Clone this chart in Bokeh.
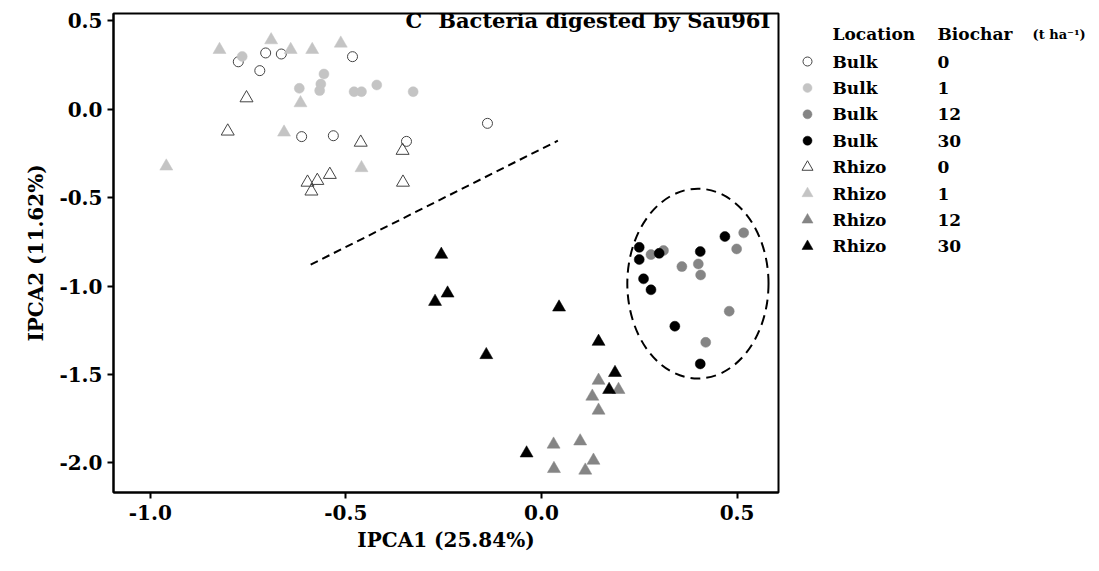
from bokeh.plotting import figure
from bokeh.models import Range1d, FixedTicker, NumeralTickFormatter, Label
from bokeh.layouts import row
from bokeh.embed import file_html
from bokeh.resources import INLINE
from bokeh.core.properties import value

# ---------------- data ----------------
bulk0_x = [-0.775, -0.705, -0.665, -0.720, -0.483, -0.613, -0.532, -0.345, -0.138]
bulk0_y = [0.268, 0.318, 0.312, 0.218, 0.297, -0.155, -0.150, -0.182, -0.080]

bulk1_x = [-0.765, -0.556, -0.564, -0.567, -0.619, -0.479, -0.460, -0.421, -0.328]
bulk1_y = [0.298, 0.199, 0.142, 0.105, 0.118, 0.099, 0.099, 0.137, 0.099]

bulk12_x = [0.280, 0.312, 0.359, 0.401, 0.407, 0.499, 0.517, 0.480, 0.420]
bulk12_y = [-0.822, -0.799, -0.890, -0.875, -0.937, -0.790, -0.699, -1.142, -1.318]

bulk30_x = [0.250, 0.250, 0.301, 0.406, 0.469, 0.261, 0.280, 0.341, 0.406]
bulk30_y = [-0.781, -0.850, -0.815, -0.805, -0.720, -0.959, -1.021, -1.227, -1.440]

rhizo0_x = [-0.754, -0.802, -0.462, -0.355, -0.354, -0.598, -0.573, -0.541, -0.588]
rhizo0_y = [0.063, -0.125, -0.188, -0.234, -0.414, -0.414, -0.404, -0.370, -0.464]

rhizo1_x = [-0.823, -0.691, -0.641, -0.586, -0.513, -0.616, -0.658, -0.460, -0.959]
rhizo1_y = [0.336, 0.391, 0.336, 0.336, 0.372, 0.035, -0.131, -0.332, -0.323]

rhizo12_x = [0.146, 0.197, 0.130, 0.146, 0.031, 0.099, 0.133, 0.032, 0.112]
rhizo12_y = [-1.534, -1.586, -1.624, -1.703, -1.895, -1.877, -1.986, -2.033, -2.042]

rhizo30_x = [-0.256, -0.240, -0.272, 0.045, -0.141, 0.146, 0.188, 0.173, -0.038]
rhizo30_y = [-0.822, -1.041, -1.088, -1.120, -1.389, -1.314, -1.490, -1.586, -1.945]

# separating dashed line and dashed ellipse
sep_x = [-0.590, 0.042]
sep_y = [-0.879, -0.178]
ell_cx, ell_cy, ell_w, ell_h = 0.400, -0.986, 0.361, 1.073

x_ticks = [-1.0, -0.5, 0.0, 0.5]
y_ticks = [0.5, 0.0, -0.5, -1.0, -1.5, -2.0]

panel_letter = "C"
title_text = "Bacteria digested by Sau96I"
x_label = "IPCA1 (25.84%)"
y_label = "IPCA2 (11.62%)"

legend_locations = ["Bulk", "Bulk", "Bulk", "Bulk", "Rhizo", "Rhizo", "Rhizo", "Rhizo"]
legend_biochar = ["0", "1", "12", "30", "0", "1", "12", "30"]
legend_header = ["Location", "Biochar", "(t ha\u207b\u00b9)"]

# ---------------- styles ----------------
LIGHT = "#c4c4c4"
MID = "#858585"
DARK = "#000000"
OPEN = "#444444"
FONT = "DejaVu Serif"

series = [
    (bulk0_x, bulk0_y, "circle", None, OPEN),
    (bulk1_x, bulk1_y, "circle", LIGHT, LIGHT),
    (bulk12_x, bulk12_y, "circle", MID, MID),
    (bulk30_x, bulk30_y, "circle", DARK, DARK),
    (rhizo0_x, rhizo0_y, "triangle", None, OPEN),
    (rhizo1_x, rhizo1_y, "triangle", LIGHT, LIGHT),
    (rhizo12_x, rhizo12_y, "triangle", MID, MID),
    (rhizo30_x, rhizo30_y, "triangle", DARK, DARK),
]

FRAME_TOP, FRAME_BOTTOM = 13, 492
H = 571

p = figure(width=780, height=H, output_backend="svg", toolbar_location=None,
           x_range=Range1d(-1.094, 0.606), y_range=Range1d(-2.167, 0.541),
           min_border_left=113, min_border_right=2,
           min_border_top=FRAME_TOP, min_border_bottom=H - FRAME_BOTTOM)
p.grid.visible = False
p.outline_line_color = "black"
p.outline_line_width = 2
p.background_fill_color = "white"
p.border_fill_color = "white"

for ax in (p.xaxis[0], p.yaxis[0]):
    ax.axis_line_width = 2
    ax.major_tick_line_width = 2
    ax.major_tick_out = 6
    ax.major_tick_in = 0
    ax.minor_tick_line_color = None
    ax.major_label_text_font = FONT
    ax.major_label_text_font_style = "bold"
    ax.major_label_text_font_size = "20px"
    ax.major_label_text_color = "black"
    ax.axis_label_text_font = FONT
    ax.axis_label_text_font_style = "bold"
    ax.axis_label_text_font_size = "20px"
    ax.axis_label_text_color = "black"
    ax.formatter = NumeralTickFormatter(format="0.0")

p.xaxis[0].ticker = FixedTicker(ticks=x_ticks)
p.yaxis[0].ticker = FixedTicker(ticks=y_ticks)
p.xaxis[0].axis_label = x_label
p.yaxis[0].axis_label = y_label
p.xaxis[0].axis_label_standoff = 5
p.yaxis[0].axis_label_standoff = 8
p.xaxis[0].major_label_standoff = 6
p.yaxis[0].major_label_standoff = 5

p.line(sep_x, sep_y, line_color="black", line_width=2, line_dash="8 5")
p.ellipse(x=[ell_cx], y=[ell_cy], width=[ell_w], height=[ell_h],
          fill_color=None, line_color="black", line_width=2, line_dash="10 6")

for xs, ys, mk, fc, lc in series:
    size = 10 if mk == "circle" else 13
    p.scatter(xs, ys, marker=mk, size=size, fill_color=fc, line_color=lc,
              line_width=1 if fc is None else 0.5)

title_style = dict(text_baseline="middle", text_font=FONT, text_font_style="bold",
                   text_font_size="21px", text_color="black")
p.add_layout(Label(x=-0.305, y=0.50, text=panel_letter, text_align="right", **title_style))
p.add_layout(Label(x=0.585, y=0.50, text=title_text, text_align="right", **title_style))

# ---------------- legend panel (coordinates = page pixels) ----------------
lw = 319
lg = figure(width=lw, height=H, output_backend="svg", toolbar_location=None,
            x_range=Range1d(0, lw), y_range=Range1d(FRAME_BOTTOM, FRAME_TOP),
            min_border_left=0, min_border_right=0,
            min_border_top=FRAME_TOP, min_border_bottom=H - FRAME_BOTTOM,
            x_axis_location=None, y_axis_location=None)
lg.grid.visible = False
lg.outline_line_color = None
lg.border_fill_color = "white"

row_top = 61
row_step = 26.4
header_y = 33
mark_x, loc_x, bio_x, unit_x = 27, 52, 157, 252

for i, (xs, ys, mk, fc, lc) in enumerate(series):
    yy = row_top + i * row_step
    size = 9 if mk == "circle" else 11
    lg.scatter([mark_x], [yy], marker=mk, size=size, fill_color=fc, line_color=lc,
               line_width=1 if fc is None else 0.5)

row_ys = [row_top + i * row_step for i in range(len(legend_locations))]
common = dict(text_font=value(FONT), text_font_style="bold", text_baseline="middle",
              text_align="left", text_color="black")
lg.text(x=[loc_x] * len(row_ys), y=row_ys, text=legend_locations, text_font_size="17px", **common)
lg.text(x=[bio_x] * len(row_ys), y=row_ys, text=legend_biochar, text_font_size="17px", **common)
lg.text(x=[loc_x, bio_x], y=[header_y, header_y], text=legend_header[:2],
        text_font_size="17px", **common)
lg.text(x=[unit_x], y=[header_y + 1], text=legend_header[2:], text_font_size="13px", **common)

layout = row(p, lg)
open("out.html", "w").write(file_html(layout, INLINE))
